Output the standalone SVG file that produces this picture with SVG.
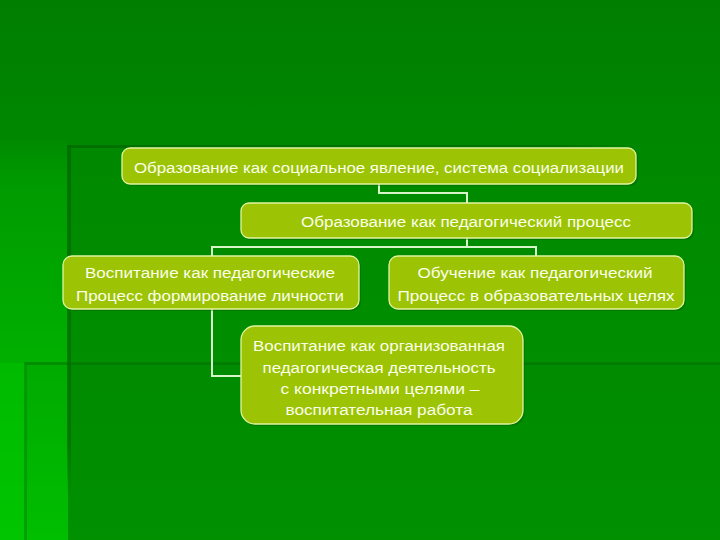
<svg xmlns="http://www.w3.org/2000/svg" width="720" height="540" viewBox="0 0 720 540">
<defs>
<linearGradient id="bg" x1="0" y1="0" x2="0" y2="1">
<stop offset="0" stop-color="#007E00"/>
<stop offset="0.27" stop-color="#008800"/>
<stop offset="1" stop-color="#009A00"/>
</linearGradient>
<linearGradient id="leftcol" x1="0" y1="0" x2="0" y2="1">
<stop offset="0" stop-color="#008A00"/>
<stop offset="0.1" stop-color="#009A00"/>
<stop offset="1" stop-color="#00C600"/>
</linearGradient>
<linearGradient id="topline" x1="0" y1="0" x2="1" y2="0">
<stop offset="0" stop-color="#006A00" stop-opacity="0.8"/>
<stop offset="0.85" stop-color="#006A00" stop-opacity="0.8"/>
<stop offset="1" stop-color="#006A00" stop-opacity="0"/>
</linearGradient>
<linearGradient id="vline" x1="0" y1="0" x2="0" y2="1">
<stop offset="0" stop-color="#006E00" stop-opacity="0.9"/>
<stop offset="0.85" stop-color="#006E00" stop-opacity="0.7"/>
<stop offset="1" stop-color="#006E00" stop-opacity="0"/>
</linearGradient>
</defs>
<style>
.box{fill:#9CC304;stroke:#E2F5A0;stroke-width:1.3}
.shadow{fill:#005A00;opacity:0.35}
.t{font-family:"Liberation Sans",Arial,sans-serif;font-size:15.5px;fill:#FAFFEA;text-anchor:middle}
.conn{fill:none;stroke:#D6F5C8;stroke-width:2}
</style>
<rect width="720" height="540" fill="url(#bg)"/>
<rect x="0" y="140" width="68" height="400" fill="url(#leftcol)"/>
<rect x="68" y="145" width="652" height="395" fill="#008A00" opacity="0.35"/>
<rect x="68" y="145" width="575" height="3" fill="url(#topline)"/>
<rect x="67" y="145" width="4" height="350" fill="url(#vline)"/>
<rect x="25" y="363" width="695" height="177" fill="#006000" opacity="0.08"/>
<rect x="25" y="362" width="695" height="3" fill="#007000" opacity="0.5"/>
<rect x="24" y="362" width="3" height="178" fill="#008A00" opacity="0.6"/>
<rect x="0" y="363" width="24" height="177" fill="#00C400" opacity="0.5"/>
<g id="connectors">
<polyline class="conn" points="379,184 379,193 467,193 467,203"/>
<polyline class="conn" points="467,238 467,247"/>
<polyline class="conn" points="212,256 212,247 536,247 536,256"/>
<polyline class="conn" points="212,309 212,376 241,376"/>
</g>
<g id="node1">
<rect class="shadow" x="124" y="150" width="514" height="36" rx="8"/>
<rect class="box" x="122" y="148" width="514" height="36" rx="8"/>
<text class="t" x="379" y="173" textLength="490" lengthAdjust="spacingAndGlyphs">Образование как социальное явление, система социализации</text>
</g>
<g id="node2">
<rect class="shadow" x="243" y="205" width="451" height="35" rx="8"/>
<rect class="box" x="241" y="203" width="451" height="35" rx="8"/>
<text class="t" x="466" y="227" textLength="330" lengthAdjust="spacingAndGlyphs">Образование как педагогический процесс</text>
</g>
<g id="node3">
<rect class="shadow" x="65" y="258" width="296" height="53" rx="9"/>
<rect class="box" x="63" y="256" width="296" height="53" rx="9"/>
<text class="t" x="210" y="278" textLength="250" lengthAdjust="spacingAndGlyphs">Воспитание как педагогические</text>
<text class="t" x="210" y="301" textLength="268" lengthAdjust="spacingAndGlyphs">Процесс формирование личности</text>
</g>
<g id="node4">
<rect class="shadow" x="391" y="258" width="295" height="53" rx="9"/>
<rect class="box" x="389" y="256" width="295" height="53" rx="9"/>
<text class="t" x="535" y="278" textLength="235" lengthAdjust="spacingAndGlyphs">Обучение как педагогический</text>
<text class="t" x="536" y="301" textLength="277" lengthAdjust="spacingAndGlyphs">Процесс в образовательных целях</text>
</g>
<g id="node5">
<rect class="shadow" x="243" y="328" width="282" height="98" rx="14"/>
<rect class="box" x="241" y="326" width="282" height="98" rx="14"/>
<text class="t" x="379" y="351" textLength="252" lengthAdjust="spacingAndGlyphs">Воспитание как организованная</text>
<text class="t" x="379" y="373" textLength="233" lengthAdjust="spacingAndGlyphs">педагогическая деятельность</text>
<text class="t" x="380" y="394" textLength="199" lengthAdjust="spacingAndGlyphs">с конкретными целями –</text>
<text class="t" x="379" y="415" textLength="187" lengthAdjust="spacingAndGlyphs">воспитательная работа</text>
</g>
</svg>
